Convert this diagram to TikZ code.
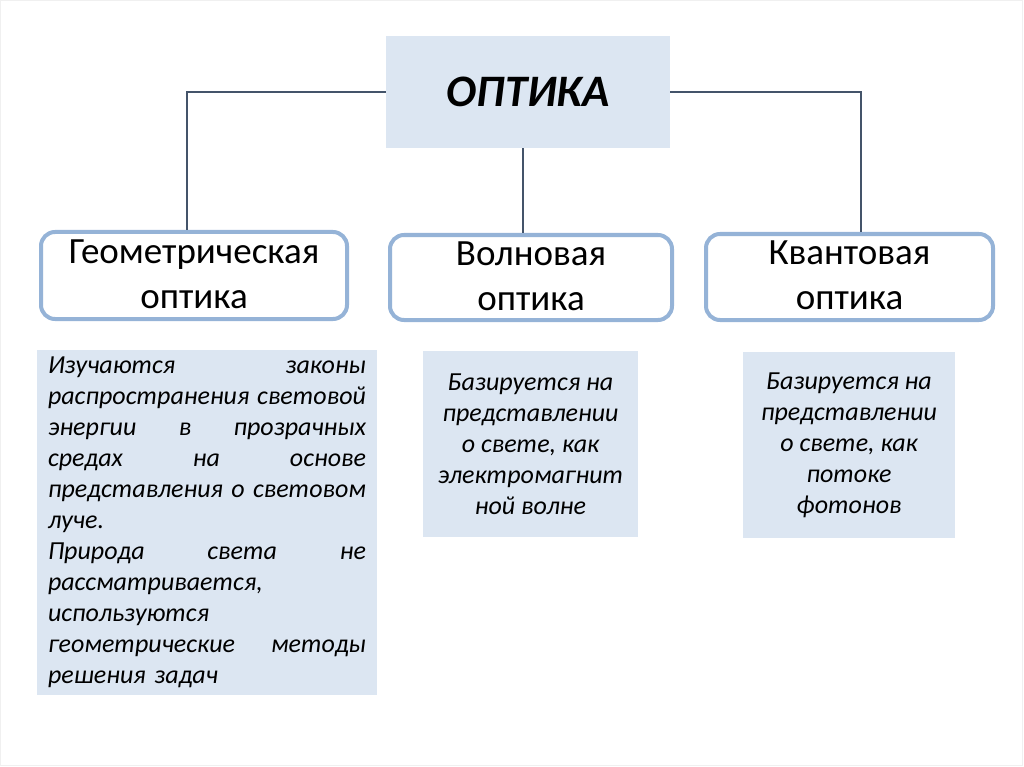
\documentclass[tikz,border=0pt]{standalone}
\usepackage{fontspec}
\setmainfont{Carlito}
\usetikzlibrary{positioning}

\definecolor{boxfill}{HTML}{DCE6F2}
\definecolor{boxline}{HTML}{95B3D7}
\definecolor{linkline}{HTML}{44546A}

\tikzset{
  headbox/.style={fill=boxfill, minimum width=284pt, minimum height=112pt,
    font=\fontsize{45}{52}\selectfont\bfseries\itshape},
  branchbox/.style={draw=boxline, line width=4pt, rounded corners=14pt, fill=white,
    align=center, inner sep=0pt, text depth=3pt, font=\fontsize{37}{45}\selectfont},
  notebox/.style={fill=boxfill, inner sep=0pt,
    font=\fontsize{26}{31}\selectfont\itshape},
  link/.style={draw=linkline, line width=1.5pt}
}

\begin{document}
\begin{tikzpicture}[x=1pt,y=-1pt]

\useasboundingbox (0,0) rectangle (1024,767);
\draw[black!6] (0.5,0.5) rectangle (1022.5,765.5);

%% Kopf
\node[headbox] (optika) at (528,92) {ОПТИКА};

%% Zweige
\node[branchbox, minimum width=306pt, minimum height=87pt] (geom) at (194,275.5)
  {Геометрическая\\оптика};
\node[branchbox, minimum width=282pt, minimum height=85pt] (wave) at (531,277.5)
  {Волновая\\оптика};
\node[branchbox, minimum width=287pt, minimum height=86pt] (quant) at (849.5,277)
  {Квантовая\\оптика};

%% Verbindungen
\draw[link] (optika.west) -| ([xshift=-7pt]geom.north);
\draw[link] (optika.east) -| ([xshift=11.5pt]quant.north);
\draw[link] ([xshift=-5pt]optika.south) -- ([xshift=-8pt]wave.north);

%% Inhalte Geometrische Optik
\node[notebox, minimum width=340pt, minimum height=345pt, text width=318pt, align=left]
  (geomtext) at (207,522) {%
  Изучаются\hfill законы\\
  распространения\hfill световой\\
  энергии\hfill в\hfill прозрачных\\
  средах\hfill на\hfill основе\\
  представления\hfill о\hfill световом\\
  луче.\\
  Природа\hfill света\hfill не\\
  рассматривается,\\
  используются\\
  геометрические\hfill методы\\
  решения задач};

%% Inhalte Wellenoptik
\node[notebox, minimum width=215pt, minimum height=186pt, align=center]
  (wavetext) at (530.5,444) {%
  Базируется на\\
  представлении\\
  о свете, как\\
  электромагнит\\
  ной волне};

%% Inhalte Quantenoptik
\node[notebox, minimum width=212pt, minimum height=186pt, align=center]
  (quanttext) at (849,445) {%
  Базируется на\\
  представлении\\
  о свете, как\\
  потоке\\
  фотонов};

\end{tikzpicture}
\end{document}
